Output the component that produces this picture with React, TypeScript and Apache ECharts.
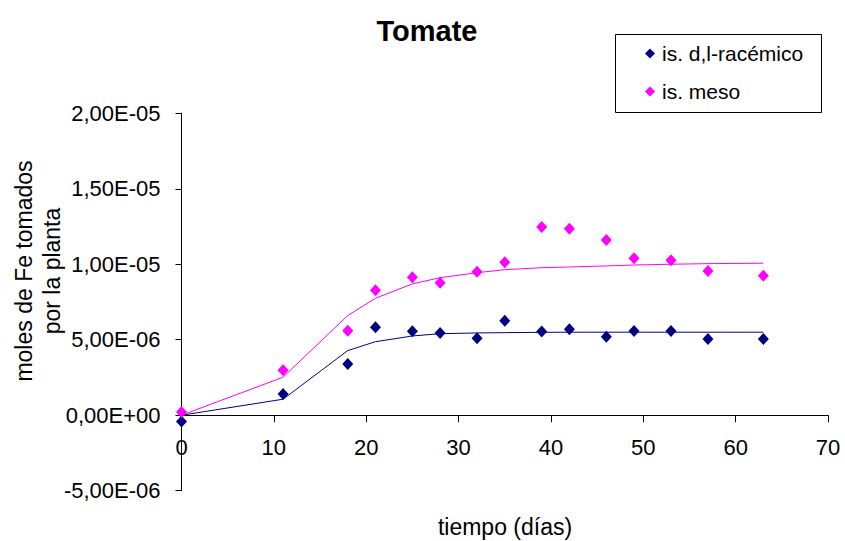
import React, { useEffect, useRef } from "react";
import * as echarts from "echarts";

const days = [0, 11, 18, 21, 25, 28, 32, 35, 39, 42, 46, 49, 53, 57, 63];
const racemicoPoints = [
  -4.2e-7, 1.41e-6, 3.4e-6, 5.83e-6, 5.56e-6, 5.45e-6, 5.1e-6, 6.25e-6, 5.54e-6, 5.7e-6, 5.19e-6,
  5.58e-6, 5.58e-6, 5.05e-6, 5.05e-6,
];
const mesoPoints = [
  2.2e-7, 2.98e-6, 5.6e-6, 8.28e-6, 9.14e-6, 8.78e-6, 9.51e-6, 1.013e-5, 1.247e-5, 1.236e-5,
  1.161e-5, 1.04e-5, 1.026e-5, 9.56e-6, 9.24e-6,
];
const racemicoFit = [
  0, 1.06e-6, 4.28e-6, 4.87e-6, 5.25e-6, 5.4e-6, 5.45e-6, 5.47e-6, 5.49e-6, 5.5e-6, 5.5e-6, 5.5e-6,
  5.5e-6, 5.5e-6, 5.5e-6,
];
const mesoFit = [
  0, 2.52e-6, 6.6e-6, 7.75e-6, 8.7e-6, 9.11e-6, 9.44e-6, 9.64e-6, 9.77e-6, 9.82e-6, 9.89e-6,
  9.95e-6, 1.0e-5, 1.004e-5, 1.007e-5,
];
const seriesNames = ["is. d,l-racémico", "is. meso"];
const titleText = "Tomate";
const xAxisTitle = "tiempo (días)";
const yAxisTitle = "moles de Fe tomados\npor la planta";

const FONT = "'Liberation Sans', Arial, sans-serif";

const Y_MIN = -5e-6;
const Y_MAX = 2e-5;
const GRID_TOP = 113.3;
const GRID_BOTTOM = 50.3;
const CHART_H = 541;

function fmtSci(v: number): string {
  if (Math.abs(v) < 1e-15) return "0,00E+00";
  const s = v.toExponential(2);
  const [m, e] = s.split("e");
  const sign = e.startsWith("-") ? "-" : "+";
  const digits = e.replace(/[+-]/, "").padStart(2, "0");
  return m.replace(".", ",") + "E" + sign + digits;
}

export default function App() {
  const ref = useRef<HTMLDivElement>(null);
  useEffect(() => {
    if (!ref.current) return;
    const chart = echarts.init(ref.current, undefined, { renderer: "svg" });
    const pair = (vals: number[]) => days.map((d, i) => [d, vals[i]]);
    // place the x axis where y = 0 (offset upward from the grid bottom)
    const gridH = CHART_H - GRID_TOP - GRID_BOTTOM;
    const zeroOffset = -((0 - Y_MIN) / (Y_MAX - Y_MIN)) * gridH;
    chart.setOption({
      animation: false,
      backgroundColor: "#ffffff",
      textStyle: { fontFamily: FONT },
      legend: {
        orient: "vertical",
        left: 640,
        top: 38,
        itemWidth: 10,
        itemHeight: 10,
        itemGap: 17,
        icon: "diamond",
        data: seriesNames,
        textStyle: { fontFamily: FONT, fontSize: 21, color: "#000", lineHeight: 21, padding: [0, 0, 0, 2] },
      },
      graphic: [
        {
          type: "text",
          x: 427,
          y: 31,
          style: {
            text: titleText,
            font: `bold 29px ${FONT}`,
            fill: "#000",
            textAlign: "center",
            textVerticalAlign: "middle",
          },
        },
        {
          type: "rect",
          shape: { x: 615.5, y: 34.5, width: 206, height: 78 },
          style: { fill: "none", stroke: "#000", lineWidth: 1 },
          z: 0,
        },
        {
          type: "text",
          x: 505,
          y: 527,
          style: {
            text: xAxisTitle,
            font: `23px ${FONT}`,
            fill: "#000",
            textAlign: "center",
            textVerticalAlign: "middle",
          },
        },
        {
          type: "text",
          x: 38,
          y: 271,
          rotation: Math.PI / 2,
          style: {
            text: yAxisTitle,
            font: `23px ${FONT}`,
            fill: "#000",
            textAlign: "center",
            textVerticalAlign: "middle",
            lineHeight: 28,
          },
        },
      ],
      grid: { left: 181.5, right: 17, top: GRID_TOP, bottom: GRID_BOTTOM, containLabel: false },
      xAxis: {
        type: "value",
        min: 0,
        max: 70,
        interval: 10,
        position: "bottom",
        offset: zeroOffset,
        axisLine: { onZero: false, lineStyle: { color: "#000", width: 1 } },
        axisTick: { show: true, inside: false, length: 7, lineStyle: { color: "#000" } },
        axisLabel: { fontFamily: FONT, fontSize: 22, color: "#000", margin: 21 },
        splitLine: { show: false },
      },
      yAxis: {
        type: "value",
        min: Y_MIN,
        max: Y_MAX,
        interval: 5e-6,
        axisLine: { show: true, onZero: false, lineStyle: { color: "#000", width: 1 } },
        axisTick: { show: true, inside: false, length: 6, lineStyle: { color: "#000" } },
        axisLabel: { fontFamily: FONT, fontSize: 22, color: "#000", margin: 21, formatter: fmtSci },
        splitLine: { show: false },
      },
      series: [
        {
          name: "fit-racemico",
          type: "line",
          data: pair(racemicoFit),
          showSymbol: false,
          lineStyle: { color: "#000080", width: 1 },
          itemStyle: { color: "#000080" },
          z: 2,
        },
        {
          name: "fit-meso",
          type: "line",
          data: pair(mesoFit),
          showSymbol: false,
          lineStyle: { color: "#FF00FF", width: 1 },
          itemStyle: { color: "#FF00FF" },
          z: 2,
        },
        {
          name: seriesNames[0],
          type: "scatter",
          data: pair(racemicoPoints),
          symbol: "diamond",
          symbolSize: [11, 12],
          itemStyle: { color: "#000080", opacity: 1 },
          z: 3,
        },
        {
          name: seriesNames[1],
          type: "scatter",
          data: pair(mesoPoints),
          symbol: "diamond",
          symbolSize: [11, 12],
          itemStyle: { color: "#FF00FF", opacity: 1 },
          z: 3,
        },
      ],
    });
    return () => chart.dispose();
  }, []);
  return <div ref={ref} style={{ width: 845, height: 541, position: "absolute", left: 0, top: 0 }} />;
}
